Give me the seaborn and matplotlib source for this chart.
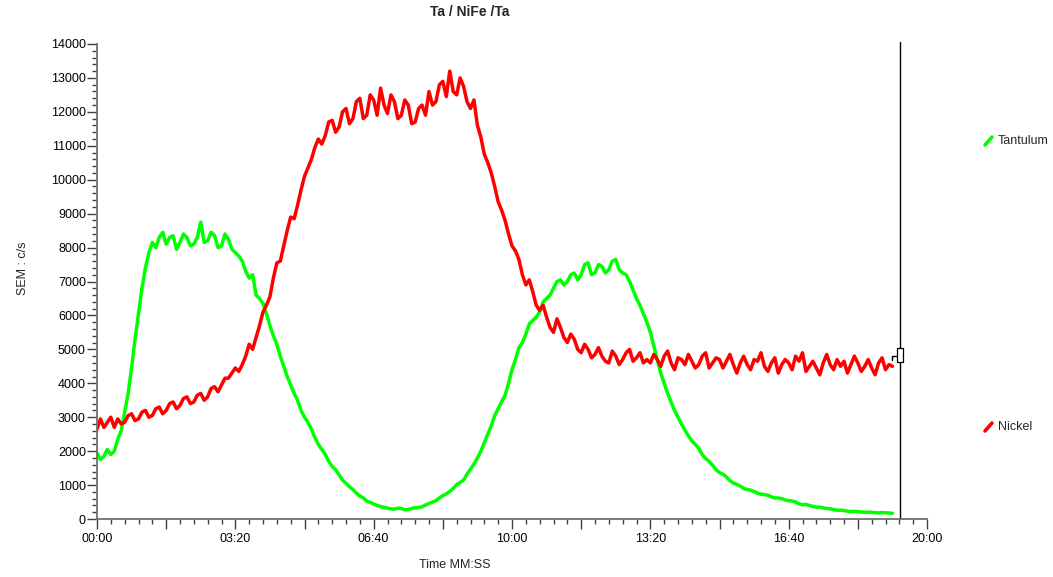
import matplotlib
matplotlib.use("Agg")
import matplotlib.pyplot as plt
from matplotlib.ticker import MultipleLocator, FuncFormatter
from matplotlib.lines import Line2D
import seaborn as sns
import pandas as pd

# ---- data (one value every 5 s) ----
time_s = list(range(0, 1155, 5))

tantulum = [
    1950, 1750, 1850, 2050, 1900, 2000, 2350, 2600, 3150, 3700,
    4450, 5300, 6050, 6800, 7400, 7850, 8150, 8000, 8300, 8450,
    8100, 8300, 8350, 7950, 8150, 8400, 8300, 8050, 8100, 8300,
    8750, 8150, 8200, 8450, 8350, 8000, 8050, 8400, 8250, 7950,
    7850, 7750, 7600, 7300, 7100, 7200, 6600, 6500, 6350, 6050,
    5700, 5400, 5150, 4800, 4500, 4200, 3950, 3700, 3500, 3200,
    3000, 2850, 2650, 2400, 2200, 2050, 1900, 1700, 1550, 1450,
    1300, 1150, 1050, 950, 870, 760, 680, 620, 530, 490,
    440, 400, 370, 340, 320, 300, 290, 320, 310, 270,
    280, 310, 330, 340, 360, 410, 460, 500, 540, 620,
    690, 740, 810, 900, 1010, 1080, 1150, 1320, 1470, 1620,
    1800, 2000, 2250, 2500, 2750, 3050, 3250, 3450, 3650, 4000,
    4400, 4700, 5050, 5200, 5450, 5750, 5850, 5950, 6100, 6400,
    6500, 6600, 6800, 7000, 7050, 6900, 7000, 7200, 7250, 7050,
    7200, 7500, 7550, 7200, 7250, 7500, 7450, 7250, 7350, 7600,
    7650, 7350, 7250, 7200, 7000, 6750, 6500, 6300, 6050, 5800,
    5500, 5100, 4700, 4300, 4000, 3700, 3450, 3200, 3000, 2800,
    2620, 2450, 2300, 2200, 2080, 1900, 1780, 1700, 1580, 1450,
    1370, 1320, 1240, 1130, 1060, 1020, 970, 900, 870, 850,
    810, 760, 730, 720, 700, 650, 620, 620, 600, 560,
    540, 530, 500, 450, 420, 430, 400, 370, 350, 350,
    330, 310, 300, 280, 260, 260, 250, 230, 220, 225,
    215, 205, 200, 200, 195, 185, 180, 190, 185, 175, 170,
]

nickel = [
    2650, 2950, 2700, 2850, 3000, 2700, 2950, 2800, 2850, 3050,
    3100, 2900, 2950, 3150, 3200, 3000, 3050, 3250, 3300, 3100,
    3200, 3400, 3450, 3250, 3350, 3550, 3600, 3400, 3450, 3650,
    3700, 3500, 3600, 3850, 3900, 3750, 3950, 4150, 4150, 4300,
    4450, 4350, 4550, 4800, 5150, 5000, 5350, 5700, 6100, 6300,
    6550, 7100, 7550, 7600, 8050, 8500, 8900, 8850, 9250, 9700,
    10100, 10350, 10600, 10950, 11200, 11050, 11300, 11700, 11750, 11400,
    11550, 12000, 12100, 11650, 11800, 12300, 12400, 11800, 11900, 12500,
    12350, 11900, 12700, 12200, 11950, 12500, 12300, 11800, 11900, 12350,
    12200, 11650, 11700, 12100, 12200, 11900, 12600, 12200, 12300, 12800,
    12900, 12450, 13200, 12600, 12500, 13000, 12750, 12300, 12100, 12350,
    11600, 11250, 10750, 10500, 10200, 9800, 9350, 9100, 8800, 8400,
    8050, 7900, 7650, 7200, 6900, 7050, 6700, 6300, 6150, 6300,
    5950, 5650, 5500, 5900, 5650, 5350, 5200, 5450, 5300, 5000,
    4900, 5150, 5000, 4750, 4850, 5050, 4800, 4650, 4600, 4950,
    4800, 4550, 4700, 4900, 5000, 4650, 4750, 4900, 4600, 4700,
    4600, 4850, 4700, 4500, 4800, 4950, 4600, 4400, 4750, 4700,
    4550, 4850, 4650, 4450, 4550, 4800, 4900, 4450, 4600, 4750,
    4700, 4450, 4650, 4850, 4550, 4300, 4600, 4800, 4550, 4400,
    4700, 4650, 4900, 4500, 4350, 4600, 4750, 4300, 4550, 4700,
    4600, 4400, 4800, 4650, 4900, 4350, 4500, 4650, 4450, 4250,
    4600, 4850, 4550, 4400, 4700, 4500, 4650, 4300, 4550, 4800,
    4600, 4350, 4500, 4700, 4450, 4250, 4600, 4750, 4400, 4550, 4500,
]

series_names = ["Tantulum", "Nickel"]
series_colors = {"Tantulum": "#00FF00", "Nickel": "#FF0000"}
x_tick_step = 200
cursor_time = 1161
cursor_value = 4820

# ---- figure ----
sns.set_style("white")
plt.rcParams["font.family"] = ["Liberation Sans", "DejaVu Sans"]

fig = plt.figure(figsize=(10.53, 5.77), dpi=100)
ax = fig.add_axes([97 / 1053, 1 - 519 / 577, 830 / 1053, 475 / 577])

df = pd.concat([
    pd.DataFrame({"t": time_s, "v": tantulum, "s": "Tantulum"}),
    pd.DataFrame({"t": time_s, "v": nickel, "s": "Nickel"}),
])
sns.lineplot(data=df, x="t", y="v", hue="s", hue_order=series_names,
             palette=series_colors, linewidth=2.5, ax=ax, legend=False,
             estimator=None, sort=False)

ax.set_xlim(0, 1200)
ax.set_ylim(0, 14000)

# cursor line and handle
ax.axvline(cursor_time, color="black", linewidth=1.0, ymax=1.004, clip_on=False)
ax.plot([1149.5, 1149.5, 1157], [4690, 4805, 4805], color="black", linewidth=1.0)
ax.plot([cursor_time], [cursor_value],
        marker=[(-1, -2.2), (1, -2.2), (1, 2.2), (-1, 2.2), (-1, -2.2)],
        markersize=10, markerfacecolor="white", markeredgecolor="black",
        markeredgewidth=0.9, linestyle="none")

# axes styling
for side in ("top", "right"):
    ax.spines[side].set_visible(False)
for side in ("left", "bottom"):
    ax.spines[side].set_color("#707070")
    ax.spines[side].set_linewidth(1.3)

ax.yaxis.set_major_locator(MultipleLocator(1000))
ax.yaxis.set_minor_locator(MultipleLocator(200))
ax.xaxis.set_major_locator(MultipleLocator(100))
ax.xaxis.set_minor_locator(MultipleLocator(20))


def fmt_time(x, pos):
    xi = int(round(x))
    if xi % x_tick_step != 0:
        return ""
    return f"{xi // 60:02d}:{xi % 60:02d}"


ax.xaxis.set_major_formatter(FuncFormatter(fmt_time))
ax.yaxis.set_major_formatter(FuncFormatter(lambda v, p: f"{int(v)}"))

ax.tick_params(axis="both", which="major", direction="out", length=7,
               width=1.0, color="#404040", labelsize=9, labelcolor="black")
ax.tick_params(axis="both", which="minor", direction="out", length=3.5,
               width=1.0, color="#404040")
ax.tick_params(axis="y", which="major", pad=1)
ax.tick_params(axis="x", which="major", pad=3)
ax.tick_params(left=True, bottom=True, which="both")

ax.set_xlabel("Time MM:SS", fontsize=9)
ax.set_ylabel("SEM : c/s", fontsize=9)
ax.xaxis.set_label_coords(0.431, -0.085)
ax.yaxis.set_label_coords(-0.082, 0.528)

fig.text(470 / 1053, 1 - 12 / 577, "Ta / NiFe /Ta", fontsize=10,
         fontweight="bold", ha="center", va="center")

# legend at right side
legend_rows = [("Tantulum", 141), ("Nickel", 427)]
for name, ypx in legend_rows:
    yf = 1 - ypx / 577
    fig.add_artist(Line2D([985 / 1053, 992 / 1053],
                          [yf - 4 / 577, yf + 4 / 577],
                          color=series_colors[name], linewidth=2.6,
                          transform=fig.transFigure))
    fig.text(998 / 1053, yf, name, fontsize=9, ha="left", va="center")

fig.savefig("out.png", dpi=100)
